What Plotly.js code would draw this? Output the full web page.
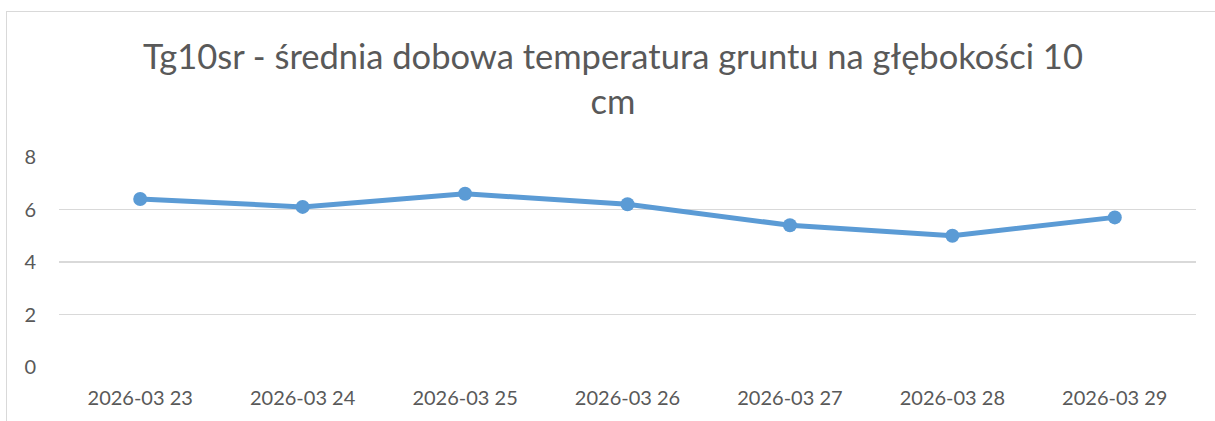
<!DOCTYPE html>
<html>
<head>
<meta charset="utf-8">
<script src="https://cdn.plot.ly/plotly-3.0.1.min.js"></script>
<style>
body{margin:0;padding:0;background:#fff;}
#wrap{position:relative;width:1215px;height:421px;overflow:hidden;}
#chart{position:absolute;left:0;top:0;width:1215px;height:421px;}
#frame{position:absolute;left:6px;top:11px;width:1230px;height:440px;border:1.5px solid #d9d9d9;pointer-events:none;}
</style>
</head>
<body>
<div id="wrap"><div id="chart"></div><div id="frame"></div></div>
<script>
const categories = ["2026-03 23","2026-03 24","2026-03 25","2026-03 26","2026-03 27","2026-03 28","2026-03 29"];
const values = [6.4, 6.1, 6.6, 6.2, 5.4, 5.0, 5.7];
const yTicks = [0, 2, 4, 6, 8];
const titleText = "Tg10sr - średnia dobowa temperatura gruntu na głębokości 10<br>cm";

const trace = {
  x: categories, y: values, type: "scatter", mode: "lines+markers",
  line: {color: "#5b9bd5", width: 5},
  marker: {color: "#5b9bd5", size: 14},
  hoverinfo: "x+y"
};
const layout = {
  width: 1215, height: 421,
  margin: {l: 59, r: 19, t: 157, b: 54},
  paper_bgcolor: "rgba(0,0,0,0)", plot_bgcolor: "#fff",
  font: {family: "Lato, 'Open Sans', sans-serif", color: "#595959", size: 20},
  title: {text: titleText, font: {size: 34.5, color: "#595959", family: "Lato, sans-serif"},
          x: 613/1215, xanchor: "center", xref: "container", y: 1 - 69/421, yanchor: "middle", yref: "container"},
  showlegend: false,
  xaxis: {type: "category", range: [-0.5, 6.5], showgrid: false, zeroline: false, showline: false,
          ticks: "", ticklabelstandoff: 17, tickfont: {size: 20, color: "#595959"}},
  yaxis: {range: [0, 8], tickvals: yTicks, ticktext: yTicks.map(String), showgrid: true,
          gridcolor: "#d9d9d9", gridwidth: 1.5, zeroline: false, showline: false, ticks: "",
          ticklabelstandoff: 22, tickfont: {size: 20, color: "#595959"}, fixedrange: true}
};
Plotly.newPlot("chart", [trace], layout, {displayModeBar: false, staticPlot: true});
</script>
</body>
</html>
